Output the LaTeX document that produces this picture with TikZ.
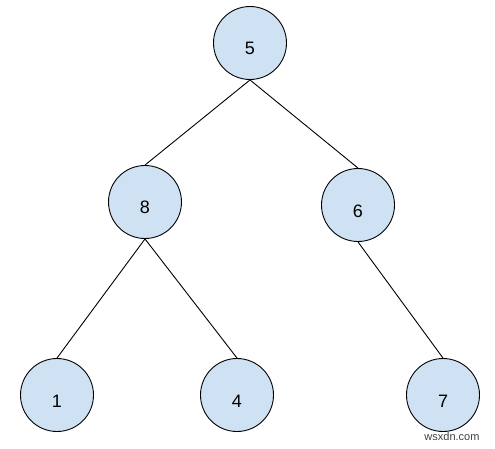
\documentclass[tikz,border=0pt]{standalone}
\usepackage{fontspec}
\setmainfont{Liberation Sans}
\begin{document}
\begin{tikzpicture}[x=1pt, y=-1pt,
    treenode/.style={circle, draw=black, line width=0.9pt, fill=my-fill,
      minimum size=73pt, inner sep=0pt, font=\fontsize{18}{20}\selectfont},
    treeedge/.style={line width=0.9pt}]
    \def\lbl#1{\raisebox{-12pt}[0pt][0pt]{#1}}
    \definecolor{my-fill}{HTML}{CFE2F3}
    \useasboundingbox (0,0) rectangle (495,449);
    % levels of the tree
    \node[treenode] (n5) at (250,43)  {\lbl{5}};
    \node[treenode] (n8) at (145,202) {\lbl{8}};
    \node[treenode] (n6) at (358,205) {\lbl{6}};
    \node[treenode] (n1) at (57,395)  {\lbl{1}};
    \node[treenode] (n4) at (237,395) {\lbl{4}};
    \node[treenode] (n7) at (443,395) {\lbl{7}};
    \draw[treeedge] (n5.south) -- (n8.north);
    \draw[treeedge] (n5.south) -- (n6.north);
    \draw[treeedge] (n8.south) -- (n1.north);
    \draw[treeedge] (n8.south) -- (n4.north);
    \draw[treeedge] (n6.south) -- (n7.north);
    \node[text=black!75, font=\fontsize{11}{13}\selectfont] (mark) at (452,437) {wsxdn.com};
\end{tikzpicture}
\end{document}
